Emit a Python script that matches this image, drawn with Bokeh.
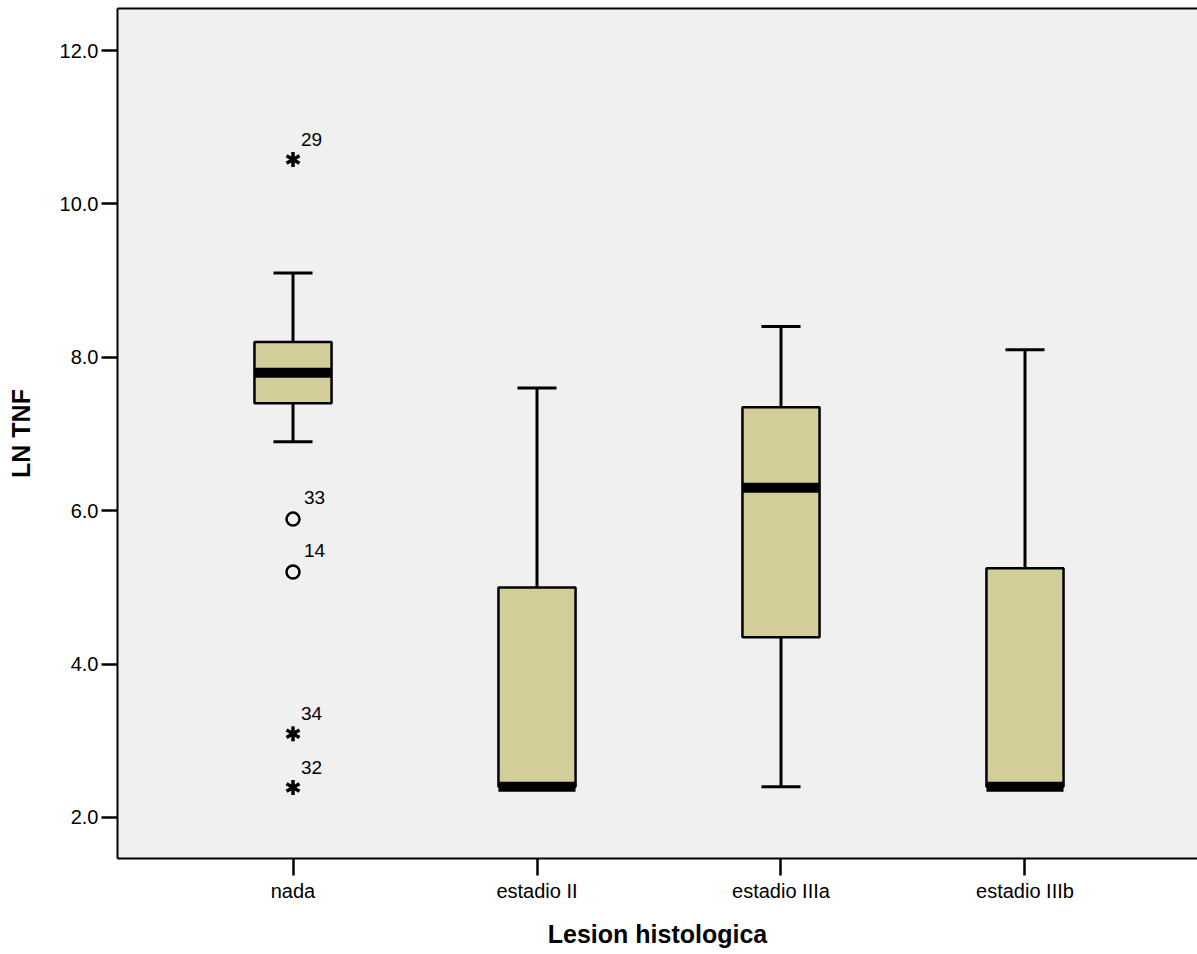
from bokeh.plotting import figure
from bokeh.models import Range1d, FixedTicker, PrintfTickFormatter, LinearAxis, ColumnDataSource
from bokeh.embed import file_html
from bokeh.resources import INLINE

categories = ["nada", "estadio II", "estadio IIIa", "estadio IIIb"]
q1 = [7.40, 2.40, 4.35, 2.40]
median = [7.80, 2.40, 6.30, 2.40]
q3 = [8.20, 5.00, 7.35, 5.25]
whisk_lo = [6.90, 2.40, 2.40, 2.40]
whisk_hi = [9.10, 7.60, 8.40, 8.10]

# outliers (group index, value, case label)
mild_group = [1, 1]
mild_value = [5.89, 5.20]
mild_label = ["33", "14"]
extreme_group = [1, 1, 1]
extreme_value = [10.58, 3.09, 2.39]
extreme_label = ["29", "34", "32"]

xpos = [i + 1 for i in range(len(categories))]
box_w = 0.316
cap_w = 0.16

FONT = "Liberation Sans"

p = figure(width=1197, height=954,
           x_range=Range1d(0.2807, 4.707), y_range=Range1d(1.4648, 12.548),
           output_backend="svg", toolbar_location=None,
           min_border_left=117, min_border_top=8, min_border_bottom=96, min_border_right=0)
p.background_fill_color = "#F0F0F0"
p.border_fill_color = "white"
p.outline_line_color = None
p.xgrid.visible = False
p.ygrid.visible = False

# axes
yax = p.yaxis[0]
yax.ticker = FixedTicker(ticks=[2, 4, 6, 8, 10, 12])
yax.formatter = PrintfTickFormatter(format="%.1f")
xax = p.xaxis[0]
xax.ticker = FixedTicker(ticks=xpos)
xax.major_label_overrides = {x: c for x, c in zip(xpos, categories)}
for ax in (xax, yax):
    ax.axis_line_color = "black"
    ax.axis_line_width = 2
    ax.major_tick_line_color = "black"
    ax.major_tick_line_width = 2.5
    ax.major_tick_in = 0
    ax.minor_tick_line_color = None
    ax.major_label_text_font = FONT
    ax.major_label_text_font_size = "20px"
    ax.major_label_text_color = "black"
    ax.axis_label_text_font = FONT
    ax.axis_label_text_font_size = "25px"
    ax.axis_label_text_font_style = "bold"
    ax.axis_label_text_color = "black"
yax.major_tick_out = 16
yax.major_label_standoff = 3
yax.axis_label = "LN TNF"
yax.axis_label_standoff = 22
xax.major_tick_out = 17
xax.major_label_standoff = 4
xax.axis_label = "Lesion histologica"
xax.axis_label_standoff = 15

top = LinearAxis(ticker=FixedTicker(ticks=[]), major_label_text_font_size="0px",
                 major_tick_out=0, major_tick_in=0, minor_tick_line_color=None,
                 major_label_standoff=0, axis_line_width=2, axis_line_color="black")
p.add_layout(top, "above")

src = ColumnDataSource(dict(x=xpos, q1=q1, med=median, q3=q3, lo=whisk_lo, hi=whisk_hi,
                            xl=[x - box_w / 2 for x in xpos], xr=[x + box_w / 2 for x in xpos],
                            cl=[x - cap_w / 2 for x in xpos], cr=[x + cap_w / 2 for x in xpos]))

# whiskers
p.segment(x0="x", y0="q3", x1="x", y1="hi", source=src, line_color="black", line_width=3)
p.segment(x0="x", y0="lo", x1="x", y1="q1", source=src, line_color="black", line_width=3)
p.segment(x0="cl", y0="hi", x1="cr", y1="hi", source=src, line_color="black", line_width=3)
p.segment(x0="cl", y0="lo", x1="cr", y1="lo", source=src, line_color="black", line_width=3)
# boxes
p.quad(left="xl", right="xr", bottom="q1", top="q3", source=src,
       fill_color="#D3CE99", line_color="black", line_width=2.5)
# medians
p.segment(x0="xl", y0="med", x1="xr", y1="med", source=src, line_color="black",
          line_width=10, line_cap="butt")

# mild outliers
msrc = ColumnDataSource(dict(x=mild_group, y=mild_value, t=mild_label))
p.scatter(x="x", y="y", source=msrc, marker="circle", size=13, fill_color=None,
          line_color="black", line_width=2.5)
p.text(x="x", y="y", text="t", source=msrc, x_offset=11, y_offset=-22,
       text_align="left", text_baseline="middle", text_font_size="19px",
       text_font={"value": FONT}, text_color="black")

# extreme outliers (6-armed star)
esrc = ColumnDataSource(dict(x=extreme_group, y=extreme_value, t=extreme_label))
for ang in (90, 30, 150):
    p.scatter(x="x", y="y", source=esrc, marker="dash", size=15, angle=ang,
              angle_units="deg", line_color="black", line_width=3.5)
p.text(x="x", y="y", text="t", source=esrc, x_offset=8, y_offset=-20,
       text_align="left", text_baseline="middle", text_font_size="19px",
       text_font={"value": FONT}, text_color="black")

open("out.html", "w").write(file_html(p, INLINE))
